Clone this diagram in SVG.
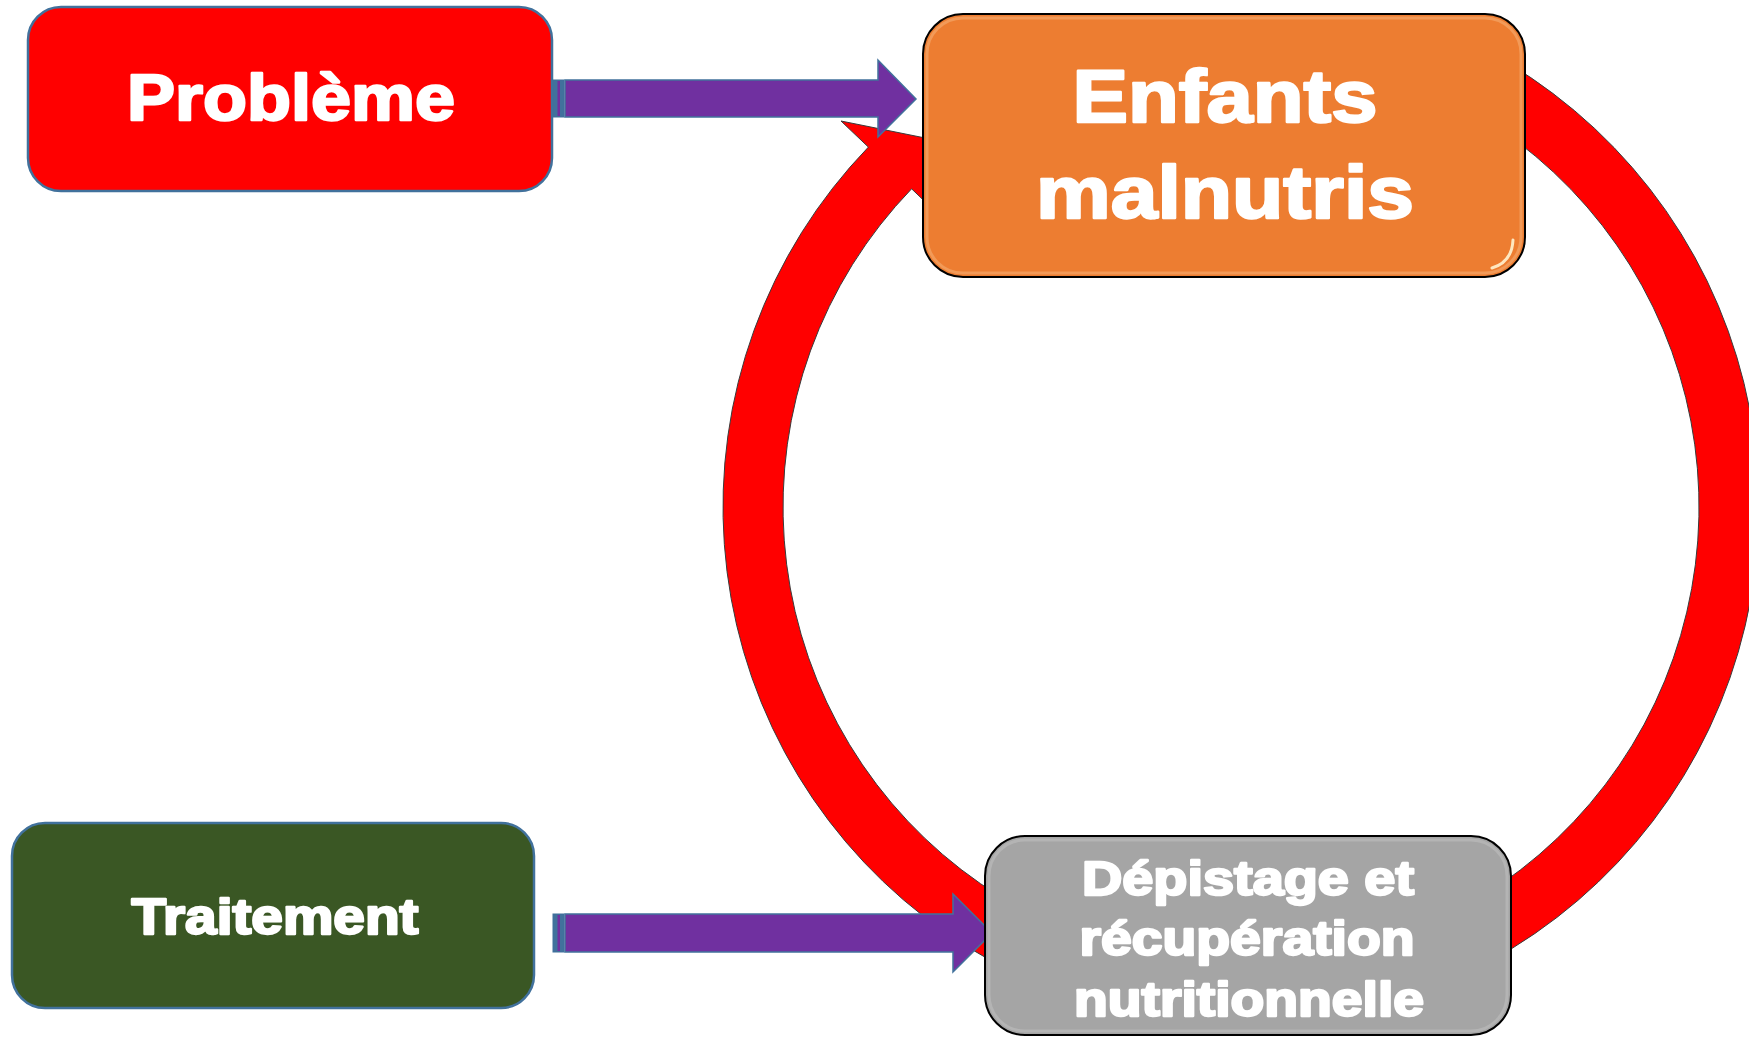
<svg xmlns="http://www.w3.org/2000/svg" width="1749" height="1037" viewBox="0 0 1749 1037">
  <defs>
    <style>
      .lbl { font-family: "Liberation Sans", Arial, sans-serif; font-weight: bold; fill: #FFFFFF; stroke: #FFFFFF; stroke-width: 2.4; stroke-linejoin: round; text-anchor: middle; }
      .flat { stroke: #41719C; stroke-width: 2.5; }
      .gloss { stroke: #000000; stroke-width: 2; }
      .arrow { fill: #7030A0; stroke: #41719C; stroke-width: 1.5; stroke-linejoin: miter; }
      .stripe { fill: #41719C; stroke: #41719C; stroke-width: 1; }
      .ring { fill: #FF0000; stroke: #3a3a3a; stroke-width: 1; stroke-linejoin: miter; }
      .hl { fill: none; stroke-width: 4; stroke-linecap: round; }
    </style>
    <linearGradient id="hlOrange" x1="0" y1="0" x2="0" y2="1">
      <stop offset="0" stop-color="#FFF3D0" stop-opacity="0"/>
      <stop offset="0.15" stop-color="#FFF3D0" stop-opacity="0.9"/>
      <stop offset="0.85" stop-color="#FFF3D0" stop-opacity="0.9"/>
      <stop offset="1" stop-color="#FFF3D0" stop-opacity="0"/>
    </linearGradient>
    <linearGradient id="hlGray" x1="0" y1="0" x2="0" y2="1">
      <stop offset="0" stop-color="#FFFFFF" stop-opacity="0"/>
      <stop offset="0.15" stop-color="#FFFFFF" stop-opacity="0.95"/>
      <stop offset="0.85" stop-color="#FFFFFF" stop-opacity="0.95"/>
      <stop offset="1" stop-color="#FFFFFF" stop-opacity="0"/>
    </linearGradient>
  </defs>

  <rect x="0" y="0" width="1749" height="1037" fill="#FFFFFF"/>

  <g id="connectors">
    <!-- red circular arrow -->
    <path class="ring" d="M 1459.9 37.5 A 518 518 0 1 1 868.4 147.1 L 841 121 L 945 142 L 939 215 L 911.6 188.8 A 458 458 0 1 0 1434.6 91.9 Z"/>
    <!-- top purple arrow: Problème -> Enfants malnutris -->
    <rect class="stripe" x="553" y="80" width="11" height="37"/>
    <rect x="557.5" y="81" width="2.5" height="35" fill="#7030A0"/>
    <path class="arrow" d="M 565 80 L 878 80 L 878 60 L 916 99 L 878 137 L 878 117 L 565 117 Z"/>
    <!-- bottom purple arrow: Traitement -> Dépistage -->
    <rect class="stripe" x="553" y="914" width="11" height="38"/>
    <rect x="557.5" y="915" width="2.5" height="36" fill="#7030A0"/>
    <path class="arrow" d="M 565 914 L 953 914 L 953 894 L 992 933 L 953 972 L 953 952 L 565 952 Z"/>
  </g>

  <g id="probleme">
    <rect class="flat" x="28" y="7" width="524" height="184" rx="33" ry="33" fill="#FF0000"/>
    <text class="lbl" x="291" y="120" font-size="65" textLength="328" lengthAdjust="spacingAndGlyphs">Problème</text>
  </g>

  <g id="traitement">
    <rect class="flat" x="12" y="823" width="522" height="185" rx="33" ry="33" fill="#3A5724"/>
    <text class="lbl" x="275" y="934" font-size="50" textLength="287" lengthAdjust="spacingAndGlyphs">Traitement</text>
  </g>

  <g id="enfants">
    <rect class="gloss" x="923" y="14" width="602" height="263" rx="40" ry="40" fill="#ED7D31"/>
    <rect x="927" y="18" width="594" height="255" rx="36" ry="36" fill="none" stroke="#F29A58" stroke-width="3"/>
    <path class="hl" d="M 935 45 L 935 245" stroke="url(#hlOrange)"/>
    <path class="hl" d="M 1513 55 L 1513 230" stroke="url(#hlOrange)"/>
    <path d="M 1513 240 Q 1512 262 1492 268" fill="none" stroke="#FFF3D0" stroke-width="3" stroke-linecap="round" opacity="0.9"/>
    <text class="lbl" x="1225" y="122" font-size="74" textLength="305" lengthAdjust="spacingAndGlyphs">Enfants</text>
    <text class="lbl" x="1225" y="218" font-size="74" textLength="378" lengthAdjust="spacingAndGlyphs">malnutris</text>
  </g>

  <g id="depistage">
    <rect class="gloss" x="985" y="836" width="526" height="199" rx="40" ry="40" fill="#A5A5A5"/>
    <rect x="989" y="840" width="518" height="191" rx="36" ry="36" fill="none" stroke="#B4B4B4" stroke-width="3"/>
    <path class="hl" d="M 997 865 L 997 1010" stroke="url(#hlGray)"/>
    <path class="hl" d="M 1499 868 L 1499 1018" stroke="url(#hlGray)"/>
    <text class="lbl" x="1248" y="895" font-size="48" textLength="332" lengthAdjust="spacingAndGlyphs">Dépistage et</text>
    <text class="lbl" x="1247" y="955" font-size="48" textLength="335" lengthAdjust="spacingAndGlyphs">récupération</text>
    <text class="lbl" x="1249" y="1016" font-size="48" textLength="350" lengthAdjust="spacingAndGlyphs">nutritionnelle</text>
  </g>
</svg>
